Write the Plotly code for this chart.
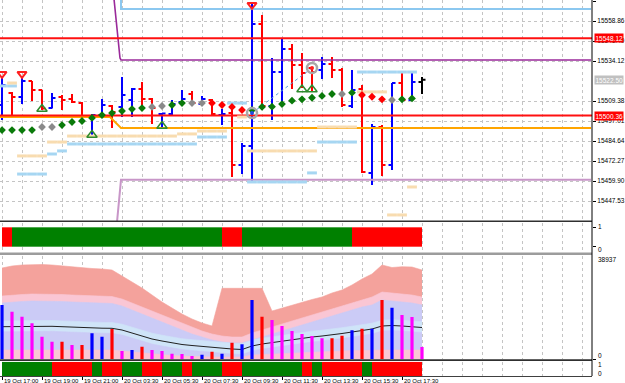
import plotly.graph_objects as go

# ---------------- data ----------------
bar_idx = list(range(43))
opens = [15506.9, 15514.3, 15511.9, 15521.7, 15516.2, 15505.0, 15511.9, 15510.6, 15508.1, 15499.5,
         15500.7, 15506.3, 15505.7, 15510.0, 15516.8, 15510.6, 15501.3, 15501.3, 15508.8, 15513.7,
         15507.5, 15510.0, 15500.7, 15501.9, 15469.8, 15481.6, 15557.0, 15506.3, 15527.3, 15541.5,
         15531.6, 15529.8, 15528.6, 15532.3, 15528.6, 15506.3, 15516.8, 15464.9, 15493.3, 15469.8,
         15520.5, 15510.0, 15521.1]
highs = [15524.8, 15514.9, 15524.8, 15521.8, 15516.3, 15514.3, 15513.1, 15513.7, 15508.8, 15501.3,
         15510.6, 15506.9, 15524.2, 15517.4, 15521.1, 15511.2, 15501.9, 15510.0, 15516.2, 15515.6,
         15512.5, 15510.6, 15504.4, 15506.3, 15483.4, 15570.6, 15562.6, 15536.0, 15547.7, 15544.6,
         15539.1, 15530.4, 15536.6, 15536.6, 15529.8, 15528.6, 15519.3, 15495.2, 15494.5, 15520.5,
         15527.3, 15527.3, 15524.2]
lows = [15497.6, 15499.5, 15507.5, 15509.4, 15503.8, 15504.7, 15503.8, 15508.1, 15499.5, 15487.1,
        15499.5, 15492.7, 15499.5, 15499.5, 15503.8, 15495.2, 15492.7, 15500.7, 15506.3, 15506.9,
        15506.9, 15500.7, 15494.5, 15462.4, 15464.2, 15459.3, 15503.8, 15497.6, 15505.7, 15516.8,
        15517.4, 15515.0, 15523.0, 15523.6, 15505.7, 15505.0, 15464.9, 15457.4, 15463.0, 15466.7,
        15508.8, 15509.4, 15513.7]
closes = [15519.3, 15511.9, 15521.7, 15516.2, 15504.7, 15511.2, 15510.0, 15508.8, 15500.1, 15500.7,
          15506.9, 15502.6, 15513.1, 15516.8, 15510.6, 15505.0, 15501.6, 15507.5, 15510.6, 15508.1,
          15510.6, 15501.3, 15501.3, 15469.8, 15481.6, 15557.0, 15506.3, 15527.3, 15541.5, 15531.6,
          15526.7, 15527.3, 15532.3, 15528.6, 15506.9, 15516.2, 15465.5, 15493.3, 15469.8, 15520.5,
          15510.0, 15521.1, 15522.5]

# trailing dots (bar index, price, state g=green, n=neutral, r=red)
dot_idx = list(range(42))
dot_price = [15491.4, 15491.4, 15491.4, 15491.4, 15493.3, 15493.3, 15494.5, 15496.4, 15497.0, 15498.9,
             15500.7, 15501.9, 15503.2, 15504.4, 15505.0, 15505.7, 15506.3, 15506.9, 15508.1, 15508.1,
             15508.1, 15508.1, 15506.9, 15505.7, 15503.8, 15503.8, 15505.7, 15505.9, 15507.5, 15509.6,
             15510.4, 15511.4, 15512.5, 15513.7, 15513.7, 15514.5, 15513.1, 15512.0, 15510.4, 15510.0,
             15510.4, 15511.0]
dot_state = ['g', 'g', 'g', 'g', 'n', 'n', 'g', 'g', 'g', 'g', 'g', 'g', 'g', 'g', 'g', 'n', 'n', 'g', 'g', 'n',
             'n', 'r', 'r', 'r', 'r', 'g', 'g', 'g', 'g', 'g', 'g', 'g', 'g', 'g', 'n', 'g', 'r', 'r', 'r', 'n',
             'g', 'g']

# small level dashes
blue_dash_idx = [0, 1, 2, 3, 4, 5, 6] + list(range(7, 20)) + [20, 21, 22, 23, 24] + \
    [25, 26, 27, 28, 29, 30, 31] + [32, 33, 34, 35] + [36, 37, 38, 39, 40, 41]
blue_dash_price = [15518.7, 15518.7, 15464.2, 15464.2, 15464.2, 15476.6, 15478.5] + [15482.8] * 13 + \
    [15487.1, 15487.1, 15487.1, 15508.1, 15508.1] + [15459.3] * 6 + [15464.9] + [15484.0] * 4 + [15527.3] * 6
orange_dash_idx = [1, 2, 3, 4, 5, 6] + list(range(7, 18)) + [18, 19, 20, 21, 22, 24] + \
    list(range(25, 32)) + [32, 33, 34, 35, 36, 37, 38, 39, 40, 41]
orange_dash_price = [15520.5, 15475.4, 15475.4, 15475.4, 15484.0, 15484.0] + [15487.7] * 11 + \
    [15489.0, 15489.0, 15490.8, 15490.8, 15490.8, 15499.5] + [15478.5] * 7 + \
    [15493.3] * 4 + [15515.0] * 3 + [15438.9, 15438.9, 15456.2]

# fractal markers
up_frac_idx = [4, 9, 16, 30, 31]
up_frac_price = [15504.4, 15488.3, 15493.9, 15516.5, 15516.5]
dn_frac_idx = [0, 2, 25]
dn_frac_price = [15526.1, 15526.1, 15568.8]

# swing circles
swing_idx = [25, 31]
swing_price = [15501.9, 15529.8]

# level lines (x in bar units, y in price)
lvl_blue_x = [11.9, 11.9, 58.9]
lvl_blue_y = [15572.5, 15566.3, 15566.3]
lvl_purple_x = [11.2, 11.8, 11.9, 58.9]
lvl_purple_y = [15572.5, 15536.0, 15534.7, 15534.7]
lvl_orange_x = [-0.2, 10.8, 11.9, 58.9]
lvl_orange_y = [15499.5, 15499.5, 15492.7, 15492.7]
lvl_plum_x = [11.5, 11.9, 58.9]
lvl_plum_y = [15434.5, 15460.6, 15460.6]
red_levels = [15548.12, 15500.36]
last_price = 15522.50

price_ticks = [15571.23, 15558.86, 15546.49, 15534.12, 15509.38, 15497.01,
               15484.64, 15472.27, 15459.90, 15447.53]

# time labels
time_label_idx = [0, 4, 8, 12, 16, 20, 24, 28, 32, 36, 40]
time_labels = ["19 Oct 17:00", "19 Oct 19:00", "19 Oct 21:00", "20 Oct 03:30", "20 Oct 05:30",
               "20 Oct 07:30", "20 Oct 09:30", "20 Oct 11:30", "20 Oct 13:30", "20 Oct 15:30",
               "20 Oct 17:30"]

# strip indicators (segment from bar i to bar i+1)
strip1_state = ['r'] + ['g'] * 21 + ['r'] * 2 + ['g'] * 11 + ['r'] * 7
strip3_state = ['g'] * 5 + ['r'] * 4 + ['g'] + ['r'] * 2 + ['g'] * 2 + ['r'] * 2 + ['g'] * 2 + ['r'] + \
    ['g'] * 3 + ['r'] * 2 + ['g'] * 6 + ['r'] + ['g'] + ['r'] * 4 + ['g'] + ['r'] * 5

# volume panel
volumes = [20525, 17993, 16103, 13608, 8543, 6653, 6653, 5405, 5405, 9828,
           8543, 11453, 3137, 3515, 4763, 3515, 3137, 2117, 2003, 1247,
           1739, 2873, 2117, 6275, 5670, 22415, 16103, 14855, 12587, 10697,
           9563, 8807, 7938, 7938, 8921, 10962, 11567, 11567, 22415, 19505,
           16745, 15989, 4649]
vol_state = ['b', 'm', 'm', 'm', 'm', 'm', 'r', 'm', 'r', 'b', 'b', 'r', 'm', 'b', 'r', 'm', 'm', 'm', 'm', 'm',
             'b', 'r', 'b', 'r', 'b', 'b', 'r', 'm', 'm', 'm', 'm', 'm', 'm', 'r', 'r', 'b', 'r', 'b', 'r', 'b',
             'm', 'm', 'm']
band_outer = [34511, 35267, 35645, 35834, 35834, 35645, 35267, 34889, 34511, 34322, 34133, 33755, 31487,
              29219, 26951, 24305, 21659, 19391, 17123, 15233, 13721, 12587, 26838, 26838, 26838, 26838,
              26838, 18257, 19391, 20525, 21659, 22604, 23549, 25061, 26195, 28085, 30353, 32243, 35645,
              34700, 35003, 34889, 33755]
band_pink = [23927, 24305, 24494, 24683, 24683, 24683, 24494, 24305, 24116, 23927, 23927, 23738, 22793,
             21281, 19769, 18257, 16745, 15233, 13721, 12209, 10697, 9563, 8807, 8429, 8429, 9941, 11075,
             12209, 13343, 14477, 15611, 16745, 17879, 19013, 20147, 21281, 22415, 23549, 25439, 25061,
             24683, 24305, 23549]
band_lav = [21281, 21659, 21848, 22037, 22037, 22037, 21848, 21659, 21470, 21281, 21281, 21092, 20147,
            18635, 17123, 15611, 14099, 12587, 11075, 9563, 8429, 7295, 6539, 6161, 6161, 7295, 8429, 9563,
            10697, 11831, 12965, 14099, 15233, 16367, 17501, 18635, 19769, 20525, 22415, 22037, 21659,
            21281, 20525]
band_cyan_top = [14523, 14598, 14712, 14787, 14787, 14674, 14523, 14334, 14145, 14031, 13956, 13918, 13275,
                 12141, 11007, 9873, 9117, 8361, 7794, 7416, 7038, 6660, 6282, 6093, 5904, 7227, 7983, 8550,
                 9117, 9684, 10251, 10629, 11007, 11385, 11952, 12519, 13086, 13653, 14787, 14976, 14787,
                 14598, 14220]
vol_ma = [12323, 12398, 12512, 12587, 12587, 12474, 12323, 12134, 11945, 11831, 11756, 11718, 11075, 9941,
          8807, 7673, 6917, 6161, 5594, 5216, 4838, 4460, 4082, 3893, 3704, 5027, 5783, 6350, 6917, 7484,
          8051, 8429, 8807, 9185, 9752, 10319, 10886, 11453, 12587, 12776, 12587, 12398, 12020]
band_cyan_bot = [10423, 10498, 10612, 10687, 10687, 10574, 10423, 10234, 10045, 9931, 9856, 9818, 9175,
                 8041, 6907, 5773, 5017, 4261, 3694, 3316, 2938, 2560, 2182, 1993, 1804, 3127, 3883, 4450,
                 5017, 5584, 6151, 6529, 6907, 7285, 7852, 8419, 8986, 9553, 10687, 10876, 10687, 10498,
                 10120]
band_low = [3515] * 12 + [3137, 2759, 2381, 2003, 1625, 1436, 1247, 1058, 869, 869, 869, 869, 869, 1625,
                          1814, 2003, 2192, 2381, 2570, 2759, 2948, 3137, 3137, 3326, 3326, 3515, 3515,
                          3515, 3515, 3515, 3515]
vol_max_label = "38937"

# ---------------- styles ----------------
UP, DN = "#0000FF", "#FF0000"
GREEN, RED = "#008000", "#FF0000"
state_col = {'g': "#0A7A0A", 'n': "#8A8A8A", 'r': "#FF0000"}
strip_col = {'g': GREEN, 'r': RED}
vol_col = {'b': "#0000FF", 'r': "#FF0000", 'm': "#FF00FF"}
GRID = "#C4C4C4"
FONT = "Liberation Sans"
PH = 376.0


def dom(top_px, bot_px):
    return [max(0.0, (PH - bot_px) / PH), min(1.0, (PH - top_px) / PH)]


def pap(px):
    return (PH - px) / PH


fig = go.Figure()

# ---------- main chart ----------
fig.add_trace(go.Scatter(x=lvl_plum_x, y=lvl_plum_y, mode="lines",
                         line=dict(color="#C896C8", width=2), hoverinfo="skip"))
fig.add_trace(go.Scatter(x=lvl_blue_x, y=lvl_blue_y, mode="lines",
                         line=dict(color="#8CC8F0", width=2), hoverinfo="skip"))
fig.add_trace(go.Scatter(x=lvl_purple_x, y=lvl_purple_y, mode="lines",
                         line=dict(color="#9A2A9A", width=1.6), hoverinfo="skip"))
fig.add_trace(go.Scatter(x=lvl_orange_x, y=lvl_orange_y, mode="lines",
                         line=dict(color="#FFA500", width=2), hoverinfo="skip"))
for lv in red_levels:
    fig.add_trace(go.Scatter(x=[-0.2, 59.0], y=[lv, lv], mode="lines",
                             line=dict(color="#FF1010", width=2), hoverinfo="skip"))

fig.add_trace(go.Scatter(x=blue_dash_idx, y=blue_dash_price, mode="markers",
                         marker=dict(symbol="line-ew", size=7, line=dict(color="#A6D6F2", width=3)),
                         hoverinfo="skip"))
fig.add_trace(go.Scatter(x=orange_dash_idx, y=orange_dash_price, mode="markers",
                         marker=dict(symbol="line-ew", size=7, line=dict(color="#F8DCB0", width=3)),
                         hoverinfo="skip"))

fig.add_trace(go.Ohlc(x=bar_idx[:-1], open=opens[:-1], high=highs[:-1], low=lows[:-1], close=closes[:-1],
                      increasing=dict(line=dict(color=UP, width=2)),
                      decreasing=dict(line=dict(color=DN, width=2)),
                      tickwidth=0.35, hoverinfo="skip"))
fig.add_trace(go.Ohlc(x=bar_idx[-1:], open=opens[-1:], high=highs[-1:], low=lows[-1:], close=closes[-1:],
                      increasing=dict(line=dict(color="#000000", width=2)),
                      decreasing=dict(line=dict(color="#000000", width=2)),
                      tickwidth=0.35, hoverinfo="skip"))

fig.add_trace(go.Scatter(x=swing_idx, y=swing_price, mode="lines",
                         line=dict(color="#5B9BD5", width=1, dash="dot"), hoverinfo="skip"))
fig.add_trace(go.Scatter(x=dot_idx, y=dot_price, mode="markers",
                         marker=dict(symbol="diamond", size=6,
                                     color=[state_col[s] for s in dot_state]),
                         hoverinfo="skip"))
fig.add_trace(go.Scatter(x=swing_idx, y=swing_price, mode="markers",
                         marker=dict(symbol="circle-open", size=10, color="#A8A8A8",
                                     line=dict(color="#A8A8A8", width=2.5)),
                         hoverinfo="skip"))
fig.add_trace(go.Scatter(x=swing_idx, y=swing_price, mode="markers",
                         marker=dict(symbol="circle", size=4, color=["#2050E0", "#FF2020"]),
                         hoverinfo="skip"))
fig.add_trace(go.Scatter(x=up_frac_idx, y=up_frac_price, mode="markers",
                         marker=dict(symbol="triangle-up-open", size=9, color="#2E8B2E",
                                     line=dict(color="#2E8B2E", width=1.5)),
                         hoverinfo="skip"))
fig.add_trace(go.Scatter(x=dn_frac_idx, y=dn_frac_price, mode="markers",
                         marker=dict(symbol="triangle-down-open", size=8, color="#FF2020",
                                     line=dict(color="#FF2020", width=2)),
                         hoverinfo="skip"))

# ---------- panel 1 strip ----------
fig.add_trace(go.Bar(x=list(range(len(strip1_state))), y=[1] * len(strip1_state), width=1, offset=0,
                     marker=dict(color=[strip_col[s] for s in strip1_state], line=dict(width=0)),
                     xaxis="x2", yaxis="y2", hoverinfo="skip"))

# ---------- panel 2 volume ----------
band_layers = [(band_outer, "#F4A29C"), (band_pink, "#FAC6D4"), (band_lav, "#CBCBF6"),
               (band_cyan_top, "#CFE4F8"), (band_cyan_bot, "#CBCBF6"), (band_low, "#FAC6D4")]
for vals, col in band_layers:
    fig.add_trace(go.Scatter(x=bar_idx, y=vals, mode="lines", fill="tozeroy", fillcolor=col,
                             line=dict(width=0.6, color=col), xaxis="x3", yaxis="y3", hoverinfo="skip"))
fig.add_trace(go.Scatter(x=bar_idx, y=vol_ma, mode="lines", line=dict(color="#202020", width=1),
                         xaxis="x3", yaxis="y3", hoverinfo="skip"))
for key in ['b', 'r', 'm']:
    xs, ys = [], []
    for i, v, s in zip(bar_idx, volumes, vol_state):
        if s == key:
            xs += [i, i, None]
            ys += [0, v, None]
    fig.add_trace(go.Scatter(x=xs, y=ys, mode="lines", line=dict(color=vol_col[key], width=3.2),
                             xaxis="x3", yaxis="y3", hoverinfo="skip"))

# ---------- panel 3 strip ----------
fig.add_trace(go.Bar(x=list(range(len(strip3_state))), y=[1] * len(strip3_state), width=1, offset=0,
                     marker=dict(color=[strip_col[s] for s in strip3_state], line=dict(width=0)),
                     xaxis="x4", yaxis="y4", hoverinfo="skip"))

# ---------- axes ----------
grid_ticks = list(range(0, 59, 2))
xr = [-0.2, 59.0]
common_x = dict(range=xr, showgrid=True, gridcolor=GRID, griddash="3px,3px", gridwidth=1,
                tickmode="array", tickvals=grid_ticks, showticklabels=False, ticks="",
                zeroline=False, showline=False, fixedrange=True, automargin=False)

layout = dict(
    width=625, height=383, margin=dict(l=0, r=33, t=0, b=7, autoexpand=False),
    paper_bgcolor="white", plot_bgcolor="white", showlegend=False,
    font=dict(family=FONT, size=7, color="#000000"), barmode="overlay",
    xaxis=dict(common_x, anchor="y", rangeslider=dict(visible=False)),
    xaxis2=dict(common_x, anchor="y2", matches="x"),
    xaxis3=dict(common_x, anchor="y3", matches="x"),
    xaxis4=dict(range=xr, anchor="y4", matches="x", tickmode="array", tickvals=time_label_idx,
                showticklabels=False, ticks="outside", ticklen=3, tickcolor="#000000",
                showgrid=True, gridcolor=GRID, griddash="3px,3px",
                minor=dict(tickmode="array", tickvals=grid_ticks, showgrid=True, gridcolor=GRID,
                           griddash="3px,3px", ticks=""),
                zeroline=False, showline=True, linecolor="#404040", linewidth=1, automargin=False),
    yaxis=dict(domain=dom(0, 221), range=[15435.16, 15571.85], side="right", anchor="x",
               tickmode="array", tickvals=price_ticks, ticktext=[f"{v:.2f}" for v in price_ticks],
               ticks="outside", ticklen=3, tickcolor="#000000",
               tickfont=dict(family=FONT, size=6.5, color="#000000"),
               showgrid=True, gridcolor=GRID, griddash="3px,3px", zeroline=False, automargin=False),
    yaxis2=dict(domain=dom(223, 253), range=[-0.325, 1.222], anchor="x2", side="right",
                showgrid=False, zeroline=False, showticklabels=False, tickvals=[0, 1],
                ticks="outside", ticklen=3, tickcolor="#000000", automargin=False),
    yaxis3=dict(domain=dom(256, 359.3), range=[0, 39050], anchor="x3", side="right",
                showgrid=False, zeroline=False, showticklabels=False, tickvals=[0],
                ticks="outside", ticklen=3, tickcolor="#000000", automargin=False),
    yaxis4=dict(domain=dom(361.7, 376), range=[0, 1], anchor="x4", side="right",
                showgrid=False, zeroline=False, showticklabels=False, automargin=False),
)
fig.update_layout(**layout)

# separators and right axis line
shapes = [
    dict(type="line", xref="paper", yref="paper", x0=0, x1=1, y0=pap(221.3), y1=pap(221.3),
         line=dict(color="#303030", width=1.5)),
    dict(type="line", xref="paper", yref="paper", x0=0, x1=1, y0=pap(253.8), y1=pap(253.8),
         line=dict(color="#9C9C9C", width=2.5)),
    dict(type="line", xref="paper", yref="paper", x0=0, x1=1, y0=pap(360.2), y1=pap(360.2),
         line=dict(color="#303030", width=1.8)),
    dict(type="line", xref="paper", yref="paper", x0=1, x1=1, y0=0, y1=1,
         line=dict(color="#000000", width=1)),
]
fig.update_layout(shapes=shapes)

# time labels (left-aligned after each tick, partly below the page edge as in the source)
for xi, txt in zip(time_label_idx, time_labels):
    fig.add_annotation(x=xi, xref="x4", y=pap(377), yref="paper", text=txt, showarrow=False,
                       xanchor="left", yanchor="top", xshift=1, borderpad=0,
                       font=dict(family=FONT, size=6, color="#000000"))

# price boxes
box_vals = [red_levels[0], last_price, red_levels[1]]
box_bg = ["#FF0000", "#C0C0C0", "#FF0000"]
for v, bg in zip(box_vals, box_bg):
    fig.add_annotation(x=1, xref="paper", y=v, yref="y", text=f"{v:.2f}", showarrow=False,
                       xanchor="left", yanchor="middle", xshift=2, bgcolor=bg, borderpad=0.5,
                       font=dict(family=FONT, size=6.5, color="#FFFFFF"))

# sub-panel scale labels
sub_labels = [("1", 226.5), ("0", 249.5), (vol_max_label, 259.5), ("0", 355), ("1", 364), ("0", 373)]
for txt, px in sub_labels:
    fig.add_annotation(x=1, xref="paper", y=pap(px), yref="paper", text=txt, showarrow=False,
                       xanchor="left", yanchor="middle", xshift=4,
                       font=dict(family=FONT, size=6.5, color="#000000"))

fig.write_html("out.html")
